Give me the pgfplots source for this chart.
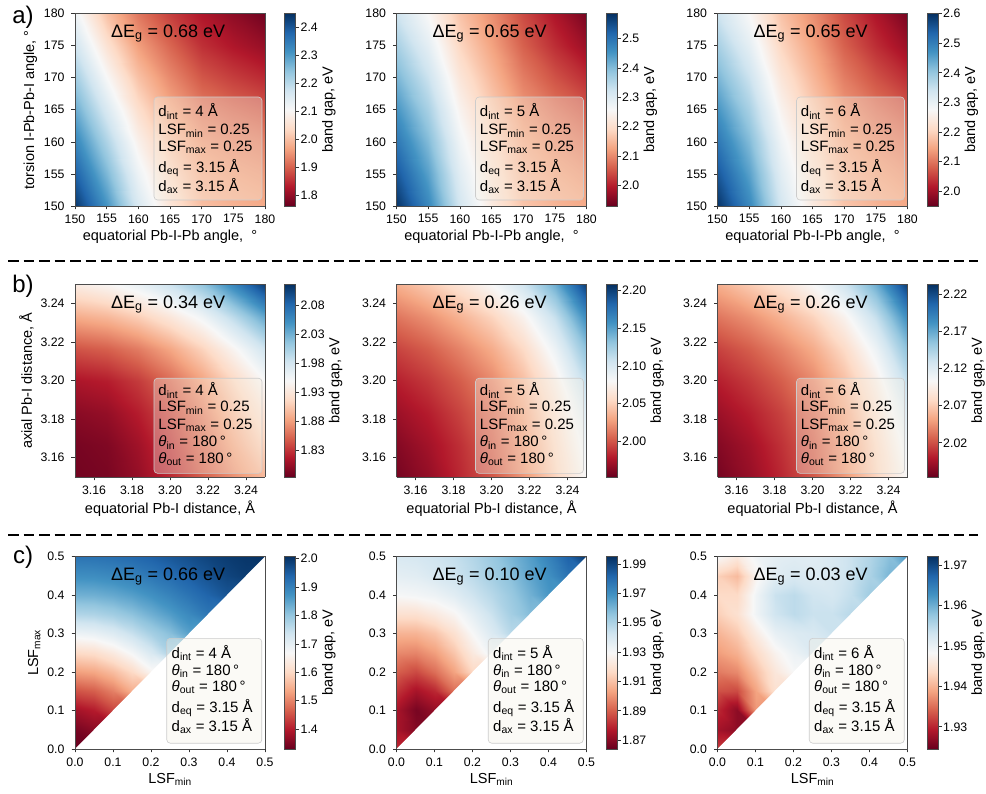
\documentclass[border=0pt]{standalone}
\usepackage{fontspec}
\setmainfont{Liberation Sans}
\usepackage{pgfplots}
\pgfplotsset{compat=1.18}
\newcommand\ticksz{\fontsize{12.3}{14}\selectfont}
\newcommand\labsz{\fontsize{14.5}{16}\selectfont}
\newcommand\boxsz{\fontsize{15}{17}\selectfont}
\newcommand\desz{\fontsize{18}{20}\selectfont}
\definecolor{boxfc}{RGB}{246,242,230}
\tikzset{boxst/.style={rounded corners=3.5pt, draw=black!20, line width=0.6pt, fill=boxfc, fill opacity=0.35},
  lnst/.style={anchor=base west, font=\boxsz, inner sep=0pt}}
\newcommand\boxA[5]{%
\draw[boxst] (rel axis cs:0.416,0.031,1) rectangle (rel axis cs:0.984,0.566,1);%
\node[lnst] at (rel axis cs:0.438,0.464,1) {#1};%
\node[lnst] at (rel axis cs:0.438,0.372,1) {#2};%
\node[lnst] at (rel axis cs:0.438,0.282,1) {#3};%
\node[lnst] at (rel axis cs:0.438,0.173,1) {#4};%
\node[lnst] at (rel axis cs:0.438,0.074,1) {#5};}
\newcommand\boxB[5]{%
\draw[boxst] (rel axis cs:0.416,0.019,1) rectangle (rel axis cs:0.984,0.513,1);%
\node[lnst] at (rel axis cs:0.438,0.422,1) {#1};%
\node[lnst] at (rel axis cs:0.438,0.339,1) {#2};%
\node[lnst] at (rel axis cs:0.438,0.249,1) {#3};%
\node[lnst] at (rel axis cs:0.438,0.157,1) {#4};%
\node[lnst] at (rel axis cs:0.438,0.071,1) {#5};}
\newcommand\boxC[5]{%
\draw[boxst] (rel axis cs:0.483,0.030,1) rectangle (rel axis cs:0.983,0.575,1);%
\node[lnst] at (rel axis cs:0.508,0.471,1) {#1};%
\node[lnst] at (rel axis cs:0.508,0.384,1) {#2};%
\node[lnst] at (rel axis cs:0.508,0.298,1) {#3};%
\node[lnst] at (rel axis cs:0.508,0.189,1) {#4};%
\node[lnst] at (rel axis cs:0.508,0.090,1) {#5};}
\newcommand\dE[1]{\node[font=\desz] at (rel axis cs:0.49,0.895,1) {ΔE\textsubscript{g} = #1 eV};}
\pgfplotsset{
  /pgf/number format/assume math mode=true,
  colormap={rdbu}{rgb255=(103,0,31) rgb255=(178,24,43) rgb255=(214,96,77) rgb255=(244,165,130) rgb255=(253,219,199) rgb255=(247,247,247) rgb255=(209,229,240) rgb255=(146,197,222) rgb255=(67,147,195) rgb255=(33,102,172) rgb255=(5,48,97)},
  every colorbar/.append style={
    scale only axis, width=11pt, height=192.5pt,
    at={(parent axis.north east)}, anchor=north west, xshift=11pt,
    tick align=outside, ytick pos=right, yticklabel pos=right,
    major tick length=3.5pt,
    tick style={black!80, line width=0.6pt},
    tick label style={font=\ticksz, inner xsep=1.5pt},
    ylabel={band gap, eV}, ylabel style={font=\labsz, inner sep=2.5pt},
    axis line style={black!70, line width=0.6pt},
    scaled ticks=false,
  },
  hm/.style={
    scale only axis, width=190pt, height=192.5pt,
    view={0}{90}, hide z axis,
    colormap name=rdbu, enlargelimits=false, axis on top,
    tick align=outside, xtick pos=left, ytick pos=left,
    major tick length=3.5pt,
    tick style={black!80, line width=0.6pt},
    axis line style={black!70, line width=0.7pt},
    tick label style={font=\ticksz},
    xticklabel style={yshift=-1.5pt},
    yticklabel style={xshift=-3.5pt},
    label style={font=\labsz},
    scaled ticks=false,
    colorbar,
  },
  cb1/.style={colorbar style={yticklabel style={/pgf/number format/.cd,fixed,fixed zerofill,precision=1}}},
  cb2/.style={colorbar style={yticklabel style={/pgf/number format/.cd,fixed,fixed zerofill,precision=2}}},
  rowa/.style={hm, cb1, xmin=150,xmax=180,ymin=150,ymax=180,
    xtick={150,155,160,165,170,175,180}, ytick={150,155,160,165,170,175,180},
    xlabel={equatorial Pb-I-Pb angle, \ °}},
  rowb/.style={hm, cb2, xmin=3.15,xmax=3.25,ymin=3.15,ymax=3.25,
    xtick={3.16,3.18,3.20,3.22,3.24}, ytick={3.16,3.18,3.20,3.22,3.24},
    xticklabel style={/pgf/number format/.cd,fixed,fixed zerofill,precision=2},
    yticklabel style={/pgf/number format/.cd,fixed,fixed zerofill,precision=2},
    xlabel={equatorial Pb-I distance, Å}},
  rowc/.style={hm, xmin=0,xmax=0.5,ymin=0,ymax=0.5,
    xtick={0,0.1,0.2,0.3,0.4,0.5}, ytick={0,0.1,0.2,0.3,0.4,0.5},
    xticklabel style={/pgf/number format/.cd,fixed,fixed zerofill,precision=1},
    yticklabel style={/pgf/number format/.cd,fixed,fixed zerofill,precision=1},
    xlabel={LSF\textsubscript{min}}},
  hmplot/.style={surf, shader=interp, mesh/cols=#1, point meta=z},
}
\begin{document}
\begin{tikzpicture}
\useasboundingbox (0,0) rectangle (986pt,794pt);
% ---------------- row a ----------------
\begin{axis}[rowa, at={(75pt,588pt)}, anchor=south west, ylabel={torsion I-Pb-Pb-I angle, °},
  point meta min=1.76, point meta max=2.45,
  colorbar style={ytick={1.8,1.9,2.0,2.1,2.2,2.3,2.4}}]
\addplot3[hmplot=7] coordinates {
(150,150,2.440) (155,150,2.310) (160,150,2.160) (165,150,2.060) (170,150,2.000) (175,150,1.985) (180,150,1.975)
(150,155,2.387) (155,155,2.260) (160,155,2.125) (165,155,2.036) (170,155,1.981) (175,155,1.966) (180,155,1.955)
(150,160,2.333) (155,160,2.211) (160,160,2.088) (165,160,2.008) (170,160,1.958) (175,160,1.942) (180,160,1.930)
(150,165,2.280) (155,165,2.158) (160,165,2.046) (165,165,1.974) (170,165,1.927) (175,165,1.907) (180,165,1.890)
(150,170,2.227) (155,170,2.105) (160,170,2.004) (165,170,1.940) (170,170,1.890) (175,170,1.866) (180,170,1.846)
(150,175,2.173) (155,175,2.053) (160,175,1.962) (165,175,1.904) (170,175,1.852) (175,175,1.826) (180,175,1.804)
(150,180,2.120) (155,180,2.000) (160,180,1.920) (165,180,1.866) (170,180,1.825) (175,180,1.795) (180,180,1.768)
};
\dE{0.68}
\boxA{d\textsubscript{int} = 4 Å}{LSF\textsubscript{min} = 0.25}{LSF\textsubscript{max} = 0.25}{d\textsubscript{eq} = 3.15 Å}{d\textsubscript{ax} = 3.15 Å}
\end{axis}
\begin{axis}[rowa, at={(396.5pt,588pt)}, anchor=south west,
  point meta min=1.93, point meta max=2.585,
  colorbar style={ytick={2.0,2.1,2.2,2.3,2.4,2.5}}]
\addplot3[hmplot=7] coordinates {
(150,150,2.578) (155,150,2.471) (160,150,2.317) (165,150,2.225) (170,150,2.166) (175,150,2.146) (180,150,2.133)
(150,155,2.536) (155,155,2.437) (160,155,2.295) (165,155,2.211) (170,155,2.153) (175,155,2.130) (180,155,2.113)
(150,160,2.493) (155,160,2.402) (160,160,2.271) (165,160,2.194) (170,160,2.136) (175,160,2.108) (180,160,2.087)
(150,165,2.451) (155,165,2.366) (160,165,2.245) (165,165,2.173) (170,165,2.114) (175,165,2.081) (180,165,2.054)
(150,170,2.408) (155,170,2.329) (160,170,2.216) (165,170,2.149) (170,170,2.089) (175,170,2.049) (180,170,2.015)
(150,175,2.366) (155,175,2.291) (160,175,2.187) (165,175,2.125) (170,175,2.062) (175,175,2.015) (180,175,1.975)
(150,180,2.323) (155,180,2.255) (160,180,2.161) (165,180,2.104) (170,180,2.041) (175,180,1.989) (180,180,1.943)
};
\dE{0.65}
\boxA{d\textsubscript{int} = 5 Å}{LSF\textsubscript{min} = 0.25}{LSF\textsubscript{max} = 0.25}{d\textsubscript{eq} = 3.15 Å}{d\textsubscript{ax} = 3.15 Å}
\end{axis}
\begin{axis}[rowa, at={(717.5pt,588pt)}, anchor=south west,
  point meta min=1.95, point meta max=2.60,
  colorbar style={ytick={2.0,2.1,2.2,2.3,2.4,2.5,2.6}}]
\addplot3[hmplot=7] coordinates {
(150,150,2.593) (155,150,2.487) (160,150,2.334) (165,150,2.243) (170,150,2.184) (175,150,2.164) (180,150,2.151)
(150,155,2.551) (155,155,2.453) (160,155,2.312) (165,155,2.229) (170,155,2.171) (175,155,2.148) (180,155,2.131)
(150,160,2.509) (155,160,2.419) (160,160,2.290) (165,160,2.212) (170,160,2.154) (175,160,2.127) (180,160,2.106)
(150,165,2.467) (155,165,2.383) (160,165,2.263) (165,165,2.191) (170,165,2.133) (175,165,2.100) (180,165,2.073)
(150,170,2.424) (155,170,2.346) (160,170,2.234) (165,170,2.167) (170,170,2.108) (175,170,2.068) (180,170,2.034)
(150,175,2.383) (155,175,2.308) (160,175,2.205) (165,175,2.144) (170,175,2.081) (175,175,2.034) (180,175,1.995)
(150,180,2.340) (155,180,2.273) (160,180,2.179) (165,180,2.123) (170,180,2.060) (175,180,2.009) (180,180,1.963)
};
\dE{0.65}
\boxA{d\textsubscript{int} = 6 Å}{LSF\textsubscript{min} = 0.25}{LSF\textsubscript{max} = 0.25}{d\textsubscript{eq} = 3.15 Å}{d\textsubscript{ax} = 3.15 Å}
\end{axis}
% ---------------- row b ----------------
\begin{axis}[rowb, at={(75pt,317pt)}, anchor=south west, ylabel={axial Pb-I distance, Å},
  point meta min=1.785, point meta max=2.115,
  colorbar style={ytick={1.83,1.88,1.93,1.98,2.03,2.08}}]
\addplot3[hmplot=7] coordinates {
(3.15,3.15,1.790) (3.1667,3.15,1.793) (3.1833,3.15,1.805) (3.2,3.15,1.826) (3.2167,3.15,1.850) (3.2333,3.15,1.874) (3.25,3.15,1.897)
(3.15,3.1667,1.792) (3.1667,3.1667,1.796) (3.1833,3.1667,1.810) (3.2,3.1667,1.832) (3.2167,3.1667,1.858) (3.2333,3.1667,1.886) (3.25,3.1667,1.914)
(3.15,3.1833,1.800) (3.1667,3.1833,1.805) (3.1833,3.1833,1.820) (3.2,3.1833,1.841) (3.2167,3.1833,1.868) (3.2333,3.1833,1.899) (3.25,3.1833,1.930)
(3.15,3.2,1.815) (3.1667,3.2,1.820) (3.1833,3.2,1.834) (3.2,3.2,1.856) (3.2167,3.2,1.883) (3.2333,3.2,1.915) (3.25,3.2,1.950)
(3.15,3.2167,1.845) (3.1667,3.2167,1.851) (3.1833,3.2167,1.864) (3.2,3.2167,1.885) (3.2167,3.2167,1.912) (3.2333,3.2167,1.945) (3.25,3.2167,1.983)
(3.15,3.2333,1.888) (3.1667,3.2333,1.895) (3.1833,3.2333,1.909) (3.2,3.2333,1.930) (3.2167,3.2333,1.956) (3.2333,3.2333,1.993) (3.25,3.2333,2.036)
(3.15,3.25,1.937) (3.1667,3.25,1.947) (3.1833,3.25,1.963) (3.2,3.25,1.986) (3.2167,3.25,2.016) (3.2333,3.25,2.059) (3.25,3.25,2.108)
};
\dE{0.34}
\boxB{d\textsubscript{int} = 4 Å}{LSF\textsubscript{min} = 0.25}{LSF\textsubscript{max} = 0.25}{\textit{θ}\textsubscript{in} = 180\,°}{\textit{θ}\textsubscript{out} = 180\,°}
\end{axis}
\begin{axis}[rowb, at={(396.5pt,317pt)}, anchor=south west,
  point meta min=1.953, point meta max=2.208,
  colorbar style={ytick={2.00,2.05,2.10,2.15,2.20}}]
\addplot3[hmplot=7] coordinates {
(3.15,3.15,1.958) (3.1667,3.15,1.968) (3.1833,3.15,1.984) (3.2,3.15,2.001) (3.2167,3.15,2.024) (3.2333,3.15,2.052) (3.25,3.15,2.081)
(3.15,3.1667,1.963) (3.1667,3.1667,1.973) (3.1833,3.1667,1.987) (3.2,3.1667,2.005) (3.2167,3.1667,2.027) (3.2333,3.1667,2.056) (3.25,3.1667,2.088)
(3.15,3.1833,1.971) (3.1667,3.1833,1.980) (3.1833,3.1833,1.994) (3.2,3.1833,2.010) (3.2167,3.1833,2.032) (3.2333,3.1833,2.062) (3.25,3.1833,2.098)
(3.15,3.2,1.981) (3.1667,3.2,1.990) (3.1833,3.2,2.003) (3.2,3.2,2.019) (3.2167,3.2,2.041) (3.2333,3.2,2.072) (3.25,3.2,2.114)
(3.15,3.2167,1.994) (3.1667,3.2167,2.003) (3.1833,3.2167,2.017) (3.2,3.2167,2.033) (3.2167,3.2167,2.055) (3.2333,3.2167,2.088) (3.25,3.2167,2.134)
(3.15,3.2333,2.012) (3.1667,3.2333,2.022) (3.1833,3.2333,2.036) (3.2,3.2333,2.052) (3.2167,3.2333,2.075) (3.2333,3.2333,2.110) (3.25,3.2333,2.162)
(3.15,3.25,2.035) (3.1667,3.25,2.047) (3.1833,3.25,2.063) (3.2,3.25,2.081) (3.2167,3.25,2.106) (3.2333,3.25,2.144) (3.25,3.25,2.203)
};
\dE{0.26}
\boxB{d\textsubscript{int} = 5 Å}{LSF\textsubscript{min} = 0.25}{LSF\textsubscript{max} = 0.25}{\textit{θ}\textsubscript{in} = 180\,°}{\textit{θ}\textsubscript{out} = 180\,°}
\end{axis}
\begin{axis}[rowb, at={(717.5pt,317pt)}, anchor=south west,
  point meta min=1.974, point meta max=2.233,
  colorbar style={ytick={2.02,2.07,2.12,2.17,2.22}}]
\addplot3[hmplot=7] coordinates {
(3.15,3.15,1.979) (3.1667,3.15,1.990) (3.1833,3.15,2.005) (3.2,3.15,2.023) (3.2167,3.15,2.047) (3.2333,3.15,2.075) (3.25,3.15,2.104)
(3.15,3.1667,1.984) (3.1667,3.1667,1.994) (3.1833,3.1667,2.009) (3.2,3.1667,2.026) (3.2167,3.1667,2.049) (3.2333,3.1667,2.078) (3.25,3.1667,2.111)
(3.15,3.1833,1.992) (3.1667,3.1833,2.002) (3.1833,3.1833,2.015) (3.2,3.1833,2.032) (3.2167,3.1833,2.054) (3.2333,3.1833,2.085) (3.25,3.1833,2.122)
(3.15,3.2,2.002) (3.1667,3.2,2.012) (3.1833,3.2,2.025) (3.2,3.2,2.041) (3.2167,3.2,2.064) (3.2333,3.2,2.095) (3.25,3.2,2.137)
(3.15,3.2167,2.015) (3.1667,3.2167,2.025) (3.1833,3.2167,2.039) (3.2,3.2167,2.055) (3.2167,3.2167,2.078) (3.2333,3.2167,2.111) (3.25,3.2167,2.158)
(3.15,3.2333,2.034) (3.1667,3.2333,2.044) (3.1833,3.2333,2.058) (3.2,3.2333,2.074) (3.2167,3.2333,2.098) (3.2333,3.2333,2.134) (3.25,3.2333,2.186)
(3.15,3.25,2.057) (3.1667,3.25,2.070) (3.1833,3.25,2.085) (3.2,3.25,2.104) (3.2167,3.25,2.129) (3.2333,3.25,2.168) (3.25,3.25,2.228)
};
\dE{0.26}
\boxB{d\textsubscript{int} = 6 Å}{LSF\textsubscript{min} = 0.25}{LSF\textsubscript{max} = 0.25}{\textit{θ}\textsubscript{in} = 180\,°}{\textit{θ}\textsubscript{out} = 180\,°}
\end{axis}
% ---------------- row c ----------------
\begin{axis}[rowc, cb1, at={(75pt,45pt)}, anchor=south west, ylabel={LSF\textsubscript{max}},
  point meta min=1.33, point meta max=2.008,
  colorbar style={ytick={1.4,1.5,1.6,1.7,1.8,1.9,2.0}}]
\addplot3[hmplot=11] coordinates {
(0,0,1.330) (0.05,0,1.330) (0.1,0,1.330) (0.15,0,1.330) (0.2,0,1.330) (0.25,0,1.330) (0.3,0,1.330) (0.35,0,1.330) (0.4,0,1.330) (0.45,0,1.330) (0.5,0,1.330)
(0,0.05,1.344) (0.05,0.05,1.361) (0.1,0.05,1.361) (0.15,0.05,1.361) (0.2,0.05,1.361) (0.25,0.05,1.361) (0.3,0.05,1.361) (0.35,0.05,1.361) (0.4,0.05,1.361) (0.45,0.05,1.361) (0.5,0.05,1.361)
(0,0.1,1.384) (0.05,0.1,1.401) (0.1,0.1,1.441) (0.15,0.1,1.441) (0.2,0.1,1.441) (0.25,0.1,1.441) (0.3,0.1,1.441) (0.35,0.1,1.441) (0.4,0.1,1.441) (0.45,0.1,1.441) (0.5,0.1,1.441)
(0,0.15,1.452) (0.05,0.15,1.464) (0.1,0.15,1.497) (0.15,0.15,1.545) (0.2,0.15,1.545) (0.25,0.15,1.545) (0.3,0.15,1.545) (0.35,0.15,1.545) (0.4,0.15,1.545) (0.45,0.15,1.545) (0.5,0.15,1.545)
(0,0.2,1.527) (0.05,0.2,1.536) (0.1,0.2,1.562) (0.15,0.2,1.601) (0.2,0.2,1.659) (0.25,0.2,1.659) (0.3,0.2,1.659) (0.35,0.2,1.659) (0.4,0.2,1.659) (0.45,0.2,1.659) (0.5,0.2,1.659)
(0,0.25,1.601) (0.05,0.25,1.608) (0.1,0.25,1.635) (0.15,0.25,1.674) (0.2,0.25,1.722) (0.25,0.25,1.775) (0.3,0.25,1.775) (0.35,0.25,1.775) (0.4,0.25,1.775) (0.45,0.25,1.775) (0.5,0.25,1.775)
(0,0.3,1.689) (0.05,0.3,1.696) (0.1,0.3,1.716) (0.15,0.3,1.747) (0.2,0.3,1.784) (0.25,0.3,1.813) (0.3,0.3,1.855) (0.35,0.3,1.855) (0.4,0.3,1.855) (0.45,0.3,1.855) (0.5,0.3,1.855)
(0,0.35,1.771) (0.05,0.35,1.775) (0.1,0.35,1.788) (0.15,0.35,1.808) (0.2,0.35,1.834) (0.25,0.35,1.860) (0.3,0.35,1.888) (0.35,0.35,1.916) (0.4,0.35,1.916) (0.45,0.35,1.916) (0.5,0.35,1.916)
(0,0.4,1.832) (0.05,0.4,1.834) (0.1,0.4,1.843) (0.15,0.4,1.857) (0.2,0.4,1.876) (0.25,0.4,1.897) (0.3,0.4,1.920) (0.35,0.4,1.942) (0.4,0.4,1.962) (0.45,0.4,1.962) (0.5,0.4,1.962)
(0,0.45,1.879) (0.05,0.45,1.881) (0.1,0.45,1.888) (0.15,0.45,1.899) (0.2,0.45,1.914) (0.25,0.45,1.930) (0.3,0.45,1.948) (0.35,0.45,1.965) (0.4,0.45,1.982) (0.45,0.45,1.993) (0.5,0.45,1.993)
(0,0.5,1.920) (0.05,0.5,1.922) (0.1,0.5,1.927) (0.15,0.5,1.935) (0.2,0.5,1.946) (0.25,0.5,1.959) (0.3,0.5,1.971) (0.35,0.5,1.984) (0.4,0.5,1.994) (0.45,0.5,2.001) (0.5,0.5,2.008)
};
\addplot3[draw=none, fill=white] coordinates {(0,0,2) (0.5,0,2) (0.5,0.5,2) (0,0,2)};
\dE{0.66}
\boxC{d\textsubscript{int} = 4 Å}{\textit{θ}\textsubscript{in} = 180\,°}{\textit{θ}\textsubscript{out} = 180\,°}{d\textsubscript{eq} = 3.15 Å}{d\textsubscript{ax} = 3.15 Å}
\end{axis}
\begin{axis}[rowc, cb2, at={(396.5pt,45pt)}, anchor=south west,
  point meta min=1.864, point meta max=1.995,
  colorbar style={ytick={1.87,1.89,1.91,1.93,1.95,1.97,1.99}}]
\addplot3[hmplot=11] coordinates {
(0,0,1.880) (0.05,0,1.880) (0.1,0,1.880) (0.15,0,1.880) (0.2,0,1.880) (0.25,0,1.880) (0.3,0,1.880) (0.35,0,1.880) (0.4,0,1.880) (0.45,0,1.880) (0.5,0,1.880)
(0,0.05,1.875) (0.05,0.05,1.869) (0.1,0.05,1.869) (0.15,0.05,1.869) (0.2,0.05,1.869) (0.25,0.05,1.869) (0.3,0.05,1.869) (0.35,0.05,1.869) (0.4,0.05,1.869) (0.45,0.05,1.869) (0.5,0.05,1.869)
(0,0.1,1.875) (0.05,0.1,1.867) (0.1,0.1,1.872) (0.15,0.1,1.872) (0.2,0.1,1.872) (0.25,0.1,1.872) (0.3,0.1,1.872) (0.35,0.1,1.872) (0.4,0.1,1.872) (0.45,0.1,1.872) (0.5,0.1,1.872)
(0,0.15,1.882) (0.05,0.15,1.875) (0.1,0.15,1.880) (0.15,0.15,1.893) (0.2,0.15,1.893) (0.25,0.15,1.893) (0.3,0.15,1.893) (0.35,0.15,1.893) (0.4,0.15,1.893) (0.45,0.15,1.893) (0.5,0.15,1.893)
(0,0.2,1.890) (0.05,0.2,1.886) (0.1,0.2,1.893) (0.15,0.2,1.903) (0.2,0.2,1.916) (0.25,0.2,1.916) (0.3,0.2,1.916) (0.35,0.2,1.916) (0.4,0.2,1.916) (0.45,0.2,1.916) (0.5,0.2,1.916)
(0,0.25,1.898) (0.05,0.25,1.897) (0.1,0.25,1.902) (0.15,0.25,1.911) (0.2,0.25,1.923) (0.25,0.25,1.933) (0.3,0.25,1.933) (0.35,0.25,1.933) (0.4,0.25,1.933) (0.45,0.25,1.933) (0.5,0.25,1.933)
(0,0.3,1.907) (0.05,0.3,1.907) (0.1,0.3,1.911) (0.15,0.3,1.919) (0.2,0.3,1.930) (0.25,0.3,1.939) (0.3,0.3,1.948) (0.35,0.3,1.948) (0.4,0.3,1.948) (0.45,0.3,1.948) (0.5,0.3,1.948)
(0,0.35,1.919) (0.05,0.35,1.919) (0.1,0.35,1.923) (0.15,0.35,1.928) (0.2,0.35,1.936) (0.25,0.35,1.944) (0.3,0.35,1.952) (0.35,0.35,1.958) (0.4,0.35,1.958) (0.45,0.35,1.958) (0.5,0.35,1.958)
(0,0.4,1.930) (0.05,0.4,1.931) (0.1,0.4,1.933) (0.15,0.4,1.937) (0.2,0.4,1.943) (0.25,0.4,1.948) (0.3,0.4,1.954) (0.35,0.4,1.961) (0.4,0.4,1.968) (0.45,0.4,1.968) (0.5,0.4,1.968)
(0,0.45,1.936) (0.05,0.45,1.937) (0.1,0.45,1.940) (0.15,0.45,1.943) (0.2,0.45,1.947) (0.25,0.45,1.952) (0.3,0.45,1.957) (0.35,0.45,1.964) (0.4,0.45,1.970) (0.45,0.45,1.978) (0.5,0.45,1.978)
(0,0.5,1.940) (0.05,0.5,1.941) (0.1,0.5,1.943) (0.15,0.5,1.945) (0.2,0.5,1.949) (0.25,0.5,1.954) (0.3,0.5,1.960) (0.35,0.5,1.966) (0.4,0.5,1.974) (0.45,0.5,1.983) (0.5,0.5,1.994)
};
\addplot3[draw=none, fill=white] coordinates {(0,0,2) (0.5,0,2) (0.5,0.5,2) (0,0,2)};
\dE{0.10}
\boxC{d\textsubscript{int} = 5 Å}{\textit{θ}\textsubscript{in} = 180\,°}{\textit{θ}\textsubscript{out} = 180\,°}{d\textsubscript{eq} = 3.15 Å}{d\textsubscript{ax} = 3.15 Å}
\end{axis}
\begin{axis}[rowc, cb2, at={(717.5pt,45pt)}, anchor=south west,
  point meta min=1.9245, point meta max=1.9722,
  colorbar style={ytick={1.93,1.94,1.95,1.96,1.97}}]
\addplot3[hmplot=11] coordinates {
(0,0,1.9317) (0.05,0,1.9317) (0.1,0,1.9317) (0.15,0,1.9317) (0.2,0,1.9317) (0.25,0,1.9317) (0.3,0,1.9317) (0.35,0,1.9317) (0.4,0,1.9317) (0.45,0,1.9317) (0.5,0,1.9317)
(0,0.05,1.9283) (0.05,0.05,1.9269) (0.1,0.05,1.9269) (0.15,0.05,1.9269) (0.2,0.05,1.9269) (0.25,0.05,1.9269) (0.3,0.05,1.9269) (0.35,0.05,1.9269) (0.4,0.05,1.9269) (0.45,0.05,1.9269) (0.5,0.05,1.9269)
(0,0.1,1.9302) (0.05,0.1,1.9269) (0.1,0.1,1.9379) (0.15,0.1,1.9379) (0.2,0.1,1.9379) (0.25,0.1,1.9379) (0.3,0.1,1.9379) (0.35,0.1,1.9379) (0.4,0.1,1.9379) (0.45,0.1,1.9379) (0.5,0.1,1.9379)
(0,0.15,1.9331) (0.05,0.15,1.9326) (0.1,0.15,1.9388) (0.15,0.15,1.9445) (0.2,0.15,1.9445) (0.25,0.15,1.9445) (0.3,0.15,1.9445) (0.35,0.15,1.9445) (0.4,0.15,1.9445) (0.45,0.15,1.9445) (0.5,0.15,1.9445)
(0,0.2,1.9359) (0.05,0.2,1.9369) (0.1,0.2,1.9412) (0.15,0.2,1.9455) (0.2,0.2,1.9484) (0.25,0.2,1.9484) (0.3,0.2,1.9484) (0.35,0.2,1.9484) (0.4,0.2,1.9484) (0.45,0.2,1.9484) (0.5,0.2,1.9484)
(0,0.25,1.9383) (0.05,0.25,1.9398) (0.1,0.25,1.9436) (0.15,0.25,1.9474) (0.2,0.25,1.9498) (0.25,0.25,1.9517) (0.3,0.25,1.9517) (0.35,0.25,1.9517) (0.4,0.25,1.9517) (0.45,0.25,1.9517) (0.5,0.25,1.9517)
(0,0.3,1.9402) (0.05,0.3,1.9421) (0.1,0.3,1.9464) (0.15,0.3,1.9503) (0.2,0.3,1.9517) (0.25,0.3,1.9522) (0.3,0.3,1.9536) (0.35,0.3,1.9536) (0.4,0.3,1.9536) (0.45,0.3,1.9536) (0.5,0.3,1.9536)
(0,0.35,1.9426) (0.05,0.35,1.9445) (0.1,0.35,1.9493) (0.15,0.35,1.9531) (0.2,0.35,1.9546) (0.25,0.35,1.9536) (0.3,0.35,1.9536) (0.35,0.35,1.9550) (0.4,0.35,1.9550) (0.45,0.35,1.9550) (0.5,0.35,1.9550)
(0,0.4,1.9436) (0.05,0.4,1.9436) (0.1,0.4,1.9493) (0.15,0.4,1.9536) (0.2,0.4,1.9546) (0.25,0.4,1.9531) (0.3,0.4,1.9526) (0.35,0.4,1.9541) (0.4,0.4,1.9569) (0.45,0.4,1.9569) (0.5,0.4,1.9569)
(0,0.45,1.9426) (0.05,0.45,1.9407) (0.1,0.45,1.9474) (0.15,0.45,1.9512) (0.2,0.45,1.9522) (0.25,0.45,1.9517) (0.3,0.45,1.9522) (0.35,0.45,1.9536) (0.4,0.45,1.9560) (0.45,0.45,1.9593) (0.5,0.45,1.9593)
(0,0.5,1.9484) (0.05,0.5,1.9460) (0.1,0.5,1.9493) (0.15,0.5,1.9507) (0.2,0.5,1.9512) (0.25,0.5,1.9512) (0.3,0.5,1.9522) (0.35,0.5,1.9536) (0.4,0.5,1.9555) (0.45,0.5,1.9584) (0.5,0.5,1.9627)
};
\addplot3[draw=none, fill=white] coordinates {(0,0,2) (0.5,0,2) (0.5,0.5,2) (0,0,2)};
\dE{0.03}
\boxC{d\textsubscript{int} = 6 Å}{\textit{θ}\textsubscript{in} = 180\,°}{\textit{θ}\textsubscript{out} = 180\,°}{d\textsubscript{eq} = 3.15 Å}{d\textsubscript{ax} = 3.15 Å}
\end{axis}
% ---------------- decorations ----------------
\draw[black, line width=1.8pt, dash pattern=on 10.5pt off 5pt] (8pt,533pt) -- (978pt,533pt);
\draw[black, line width=1.8pt, dash pattern=on 10.5pt off 5pt] (8pt,259pt) -- (978pt,259pt);
\node[font=\fontsize{24}{27}\selectfont] at (23pt,777pt) {a)};
\node[font=\fontsize{24}{27}\selectfont] at (23pt,508pt) {b)};
\node[font=\fontsize{24}{27}\selectfont] at (23pt,237pt) {c)};
\end{tikzpicture}
\end{document}
